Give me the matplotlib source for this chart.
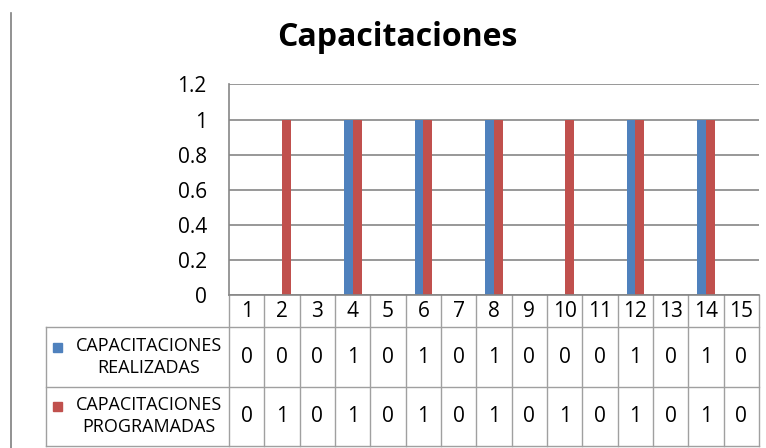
import matplotlib
matplotlib.use("Agg")
from matplotlib import pyplot as plt
from matplotlib import transforms
from matplotlib.lines import Line2D
from matplotlib.patches import Rectangle

# chart data
categories = list(range(1, 16))
realizadas = [0, 0, 0, 1, 0, 1, 0, 1, 0, 0, 0, 1, 0, 1, 0]
programadas = [0, 1, 0, 1, 0, 1, 0, 1, 0, 1, 0, 1, 0, 1, 0]
series_names = ["CAPACITACIONES\nREALIZADAS", "CAPACITACIONES\nPROGRAMADAS"]
yticks = [0, 0.2, 0.4, 0.6, 0.8, 1, 1.2]
ytick_labels = ["0", "0.2", "0.4", "0.6", "0.8", "1", "1.2"]

blue = "#4F81BD"
red = "#C0504D"
grid_col = "#868686"
table_col = "#A0A0A0"
plt.rcParams['font.family'] = ['Open Sans', 'DejaVu Sans']

W, H = 766, 448
fig = plt.figure(figsize=(W / 100, H / 100), dpi=100)

def fy(y):
    return 1 - y / H

# plot area in pixels: x 229..759, y 84.5..295
ax = fig.add_axes([229 / W, fy(295), (759 - 229) / W, (295 - 84.5) / H])
ax.bar([c - 0.125 for c in categories], realizadas, width=0.25, color=blue)
ax.bar([c + 0.125 for c in categories], programadas, width=0.25, color=red)
ax.set_xlim(0.5, 15.5)
ax.set_ylim(0, 1.2)
ax.set_yticks(yticks)
ax.set_yticklabels(ytick_labels, fontsize=15)
ax.tick_params(axis='y', length=0, pad=16)
ax.set_xticks([])
ax.yaxis.grid(True, color=grid_col, linewidth=1.2)
ax.set_axisbelow(True)
for s in ["top", "right", "bottom"]:
    ax.spines[s].set_visible(False)
ax.spines["left"].set_color(grid_col)
ax.spines["left"].set_linewidth(1.2)

fig.text(397 / W, fy(37), "Capacitaciones", fontsize=23, fontweight='bold',
         ha='center', va='center')

# data table under the chart
tr = transforms.blended_transform_factory(ax.transData, fig.transFigure)
lw = 1.0
# vertical lines between categories
for b in [c - 0.5 for c in categories] + [categories[-1] + 0.5]:
    fig.add_artist(Line2D([b, b], [fy(295), fy(446)], transform=tr,
                          color=table_col, linewidth=lw))
# horizontal lines
x_left = 46 / W
x_right_t = ax.transData.transform((categories[-1] + 0.5, 0))
x_right = fig.transFigure.inverted().transform(x_right_t)[0]
for y in [327, 387, 446]:
    fig.add_artist(Line2D([x_left, x_right], [fy(y), fy(y)],
                          color=table_col, linewidth=lw))
fig.add_artist(Line2D([x_left, x_left], [fy(327), fy(446)],
                      color=table_col, linewidth=lw))
# bottom axis line
fig.add_artist(Line2D([229 / W, x_right], [fy(295), fy(295)],
                      color=grid_col, linewidth=1.2))

# header numbers
for c in categories:
    fig.text(c, fy(311), str(c), transform=tr, fontsize=15,
             ha='center', va='center')

# series rows
row_centers = [357, 416]
colors = [blue, red]
for name, vals, yc, col in zip(series_names, [realizadas, programadas], row_centers, colors):
    for c, v in zip(categories, vals):
        fig.text(c, fy(yc), str(v), transform=tr, fontsize=15,
                 ha='center', va='center')
    fig.text(149 / W, fy(yc), name, fontsize=13, ha='center', va='center',
             linespacing=1.25)
    fig.add_artist(Rectangle((53 / W, fy(yc - 5)), 9 / W, 9 / H,
                             transform=fig.transFigure, color=col))

# left border of the snapshot
fig.add_artist(Line2D([11 / W, 11 / W], [fy(13), 0], color="#7F7F7F", linewidth=1.2))

plt.savefig("out.png", dpi=100)
